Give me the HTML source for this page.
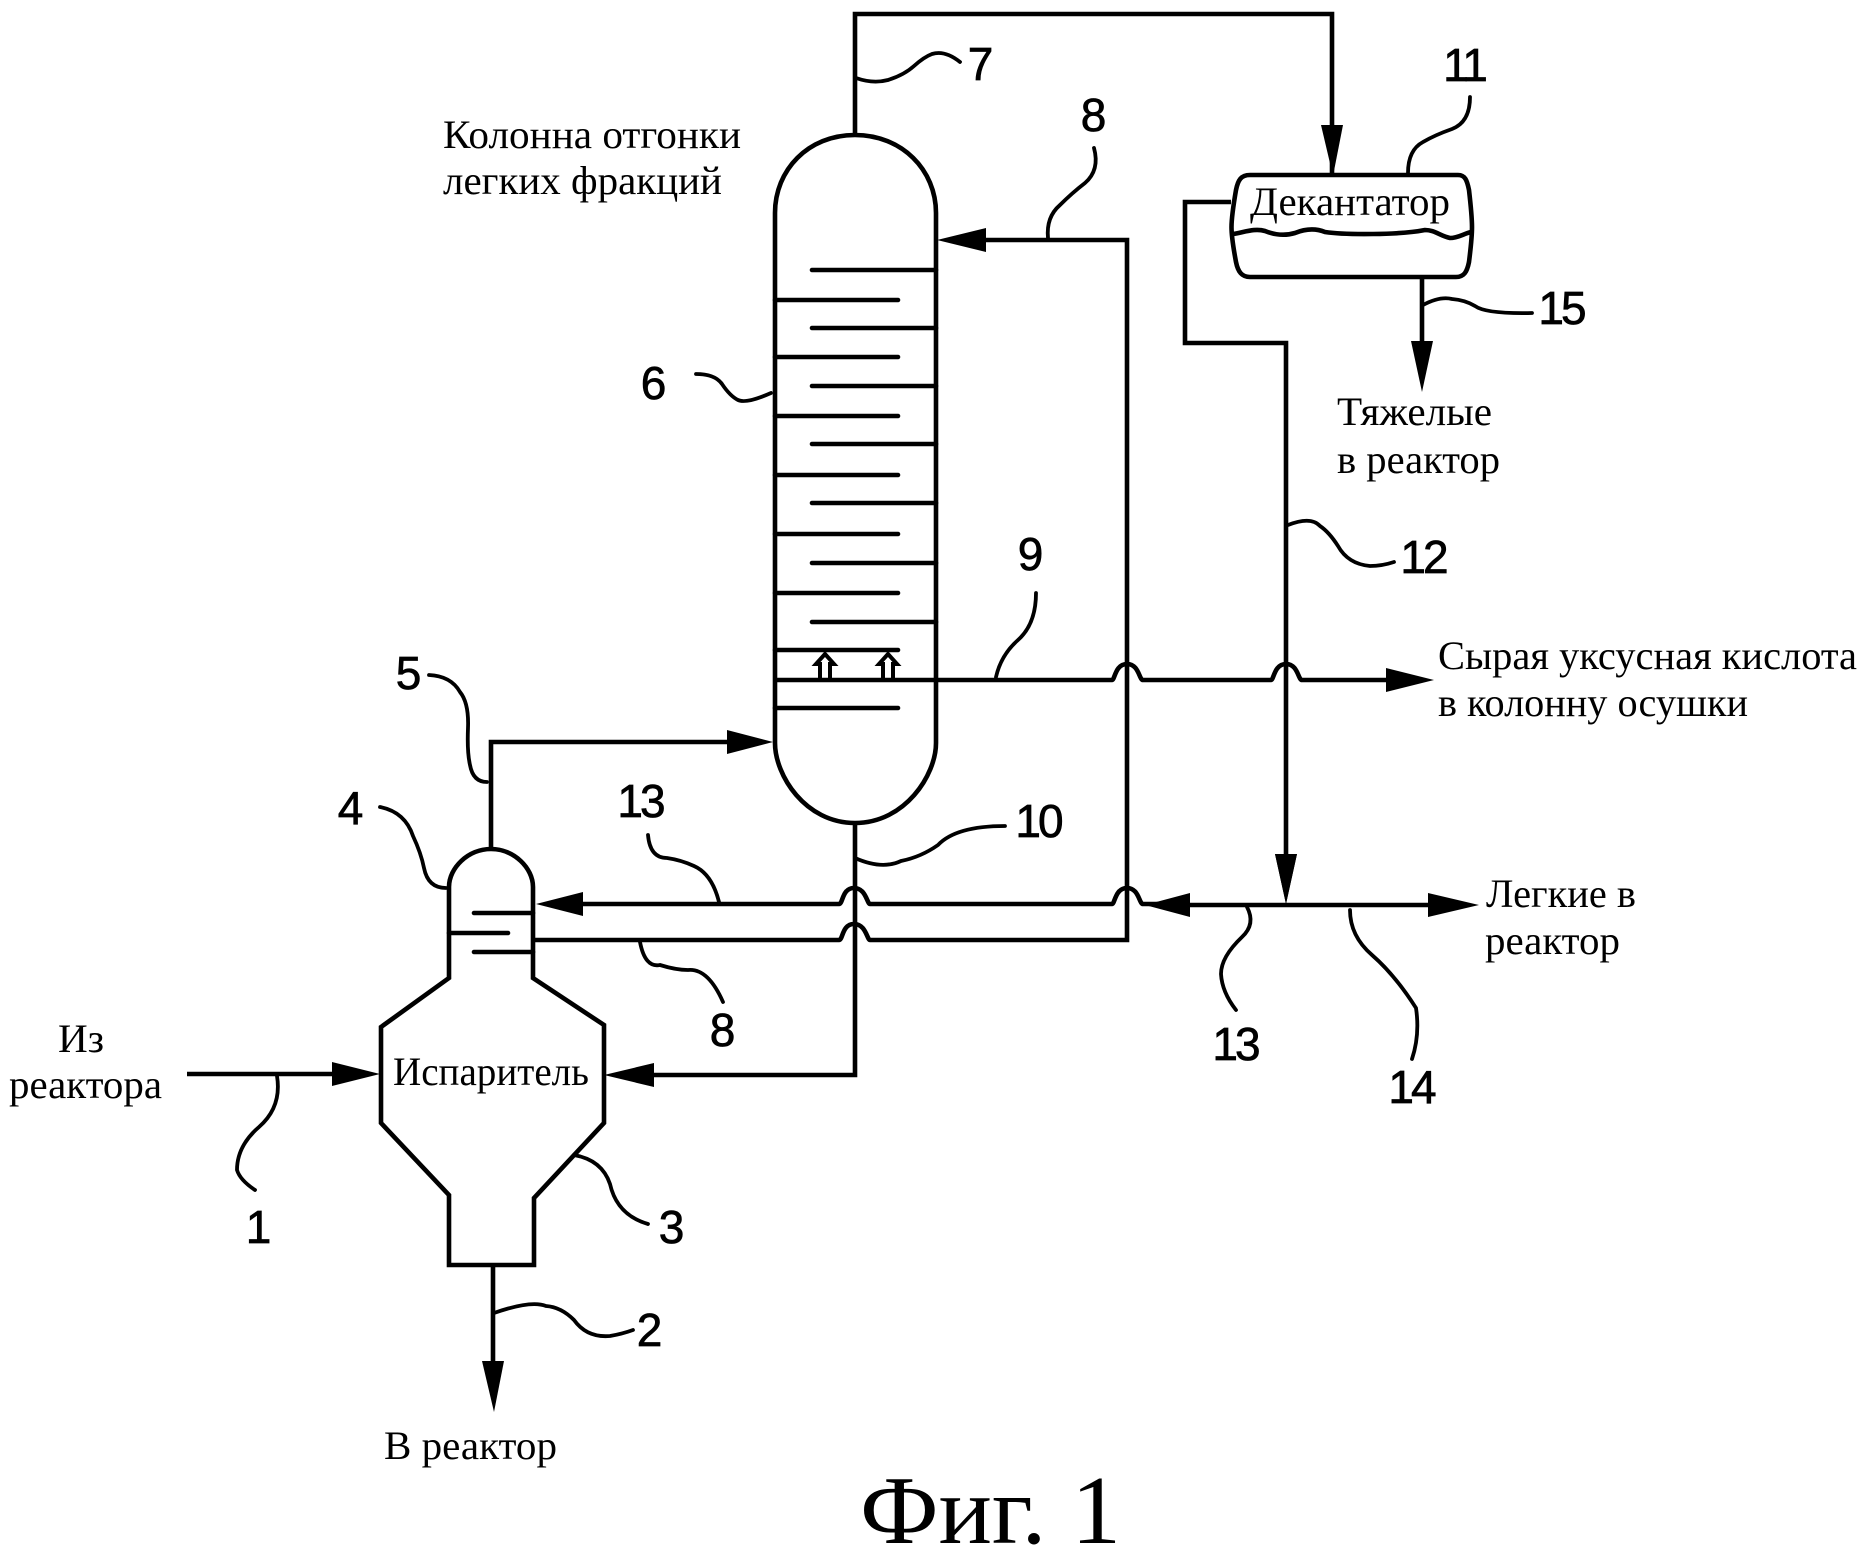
<!DOCTYPE html>
<html><head><meta charset="utf-8"><style>
html,body{margin:0;padding:0;background:#fff}
svg{display:block}
.s{font-family:"Liberation Serif","Noto Serif CJK SC",serif;font-size:40px;fill:#000}
.n{font-family:"Liberation Sans",sans-serif;font-size:46px;fill:#000;stroke:#000;stroke-width:.7;text-anchor:middle;letter-spacing:-3px}
.m{fill:none;stroke:#000;stroke-width:4.6;stroke-linejoin:miter}
.t{fill:none;stroke:#000;stroke-width:4.6;stroke-linecap:round}
.l{fill:none;stroke:#000;stroke-width:3.8;stroke-linecap:round}
.a{fill:#000;stroke:none}
</style></head><body>
<svg width="1871" height="1557" viewBox="0 0 1871 1557" xmlns="http://www.w3.org/2000/svg">
<rect width="1871" height="1557" fill="#fff"/>
<!-- column -->
<path class="m" d="M775 213C775 170 808 135 855 135C902 135 936 170 936 213L936 743C936 775 905 823 855 823C805 823 775 775 775 743Z"/>
<!-- trays -->
<path class="t" d="M812 270H936M812 328H936M812 386H936M812 444H936M812 503H936M812 563H936M812 622H936"/>
<path class="t" d="M775 300H898M775 357H898M775 416H898M775 475H898M775 534H898M775 593H898M775 650H898M775 708H898"/>
<!-- chimneys -->
<path class="m" style="stroke-width:4" d="M820 678V664H816L825 654L834 664H830V678M883 678V664H879L888 654L897 664H893V678"/>
<!-- 7 -->
<path class="m" d="M855 135V14H1332V135"/>
<path class="a" d="M1321 125H1343L1333 176Z"/>
<path class="m" d="M1332 125V175"/>
<!-- decanter -->
<path class="m" d="M1250 175H1458C1465 175 1467 180 1469 190C1473 225 1473 230 1469 262C1467 272 1464 277 1456 277H1250C1242 277 1238 272 1236 262C1230 230 1230 225 1236 190C1238 180 1241 175 1250 175Z"/>
<path class="m" d="M1233 234C1245 232 1255 228 1265 231C1275 235 1285 236 1295 233C1305 229 1315 228 1325 232C1345 235 1400 235 1425 230C1435 230 1440 236 1450 238C1458 238 1463 234 1471 232"/>
<!-- 12 -->
<path class="m" d="M1231 202H1185V343H1286V860"/>
<path class="a" d="M1275 854H1297L1286 904Z"/>
<!-- 15 outlet -->
<path class="m" d="M1422 277V345"/>
<path class="a" d="M1411 341H1433L1422 392Z"/>
<!-- 8 top / down -->
<path class="m" d="M980 240H1127V940H870C867 940 866 924 854 924C842 924 843 940 839 940H535"/>
<path class="a" d="M937 240L986 228V252Z"/>
<!-- 13 -->
<path class="m" d="M580 904H839C843 904 842 888 854 888C866 888 867 904 870 904H1112C1115 904 1115 888 1127 888C1139 888 1139 904 1143 904H1190"/>
<path class="a" d="M536 904L583 892V916Z"/>
<path class="a" d="M1145 905L1190 893V917Z"/>
<!-- horizontal 13/14 -->
<path class="m" d="M1185 905H1435"/>
<path class="a" d="M1479 905L1428 893V917Z"/>
<path class="a" d="M1275 854H1297L1286 904Z"/>
<!-- 9 -->
<path class="m" d="M775 680H1112C1115 680 1115 664 1127 664C1139 664 1139 680 1143 680H1271C1274 680 1274 664 1286 664C1298 664 1298 680 1302 680H1392"/>
<path class="a" d="M1434 680L1386 668V692Z"/>
<!-- 10 -->
<path class="m" d="M855 823V1075H650"/>
<path class="a" d="M604 1075L654 1063V1087Z"/>
<!-- evaporator -->
<path class="m" d="M449 887C449 868 468 849 491 849C514 849 533 868 533 887V978L604 1025V1123L534 1198V1265H449V1195L381 1123V1027L449 978Z"/>
<path class="t" d="M474 913H533M449 933H508M474 952H533"/>
<!-- 5 -->
<path class="m" d="M491 849V742H735"/>
<path class="a" d="M773 742L727 730V754Z"/>
<!-- inlet / outlet -->
<path class="m" d="M187 1074H340"/>
<path class="a" d="M380 1074L332 1062V1086Z"/>
<path class="m" d="M493 1265V1365"/>
<path class="a" d="M482 1361H504L494 1412Z"/>
<!-- leaders -->
<path class="l" d="M856 78Q873 84 888 80Q904 75 914 66Q924 57 932 54Q945 50 960 62"/>
<path class="l" d="M1048 238Q1046 217 1060 205Q1072 193 1085 183Q1100 170 1094 148"/>
<path class="l" d="M1408 173Q1408 150 1423 142Q1435 135 1452 129Q1470 122 1470 97"/>
<path class="l" d="M1423 305Q1440 296 1452 299Q1465 300 1475 306Q1486 314 1532 313"/>
<path class="l" d="M696 374Q715 374 722 384Q730 396 738 400Q746 404 771 393"/>
<path class="l" d="M1288 525Q1311 516 1320 526Q1329 532 1338 546Q1348 564 1370 566Q1382 566 1394 562"/>
<path class="l" d="M996 677Q1001 655 1018 640Q1036 624 1036 593"/>
<path class="l" d="M429 675Q451 676 460 692Q469 703 468 728Q467 752 470 765Q473 782 487 782"/>
<path class="l" d="M380 807Q405 812 413 836Q421 853 424 868Q428 888 446 888"/>
<path class="l" d="M648 835Q650 858 667 858Q681 860 694 866Q712 874 719 902"/>
<path class="l" d="M855 858Q882 870 901 861Q921 857 938 845Q956 826 1005 826"/>
<path class="l" d="M640 942Q645 968 660 965Q676 970 688 970Q708 968 723 1002"/>
<path class="l" d="M1247 907Q1256 924 1242 937Q1221 957 1221 974Q1222 992 1236 1010"/>
<path class="l" d="M1350 910Q1350 936 1372 955Q1395 975 1416 1008Q1420 1035 1412 1059"/>
<path class="l" d="M277 1076Q282 1107 259 1127Q237 1146 237 1170Q240 1180 255 1190"/>
<path class="l" d="M574 1155Q602 1160 610 1184Q617 1215 648 1224"/>
<path class="l" d="M494 1313Q531 1300 546 1306Q561 1307 574 1320Q587 1338 610 1336Q622 1334 633 1330"/>
<!-- serif text -->
<text class="s" x="443" y="148" textLength="298" lengthAdjust="spacingAndGlyphs">Колонна отгонки</text>
<text class="s" x="443" y="194" textLength="279" lengthAdjust="spacingAndGlyphs">легких фракций</text>
<text class="s" x="1250" y="215" textLength="200" lengthAdjust="spacingAndGlyphs">Декантатор</text>
<text class="s" x="1337" y="425" textLength="155" lengthAdjust="spacingAndGlyphs">Тяжелые</text>
<text class="s" x="1337" y="473" textLength="163" lengthAdjust="spacingAndGlyphs">в реактор</text>
<text class="s" x="1438" y="669" textLength="419" lengthAdjust="spacingAndGlyphs">Сырая уксусная кислота</text>
<text class="s" x="1438" y="716" textLength="310" lengthAdjust="spacingAndGlyphs">в колонну осушки</text>
<text class="s" x="1486" y="907" textLength="150" lengthAdjust="spacingAndGlyphs">Легкие в</text>
<text class="s" x="1485" y="954" textLength="135" lengthAdjust="spacingAndGlyphs">реактор</text>
<text class="s" x="58" y="1052" textLength="46" lengthAdjust="spacingAndGlyphs">Из</text>
<text class="s" x="9" y="1098" textLength="153" lengthAdjust="spacingAndGlyphs">реактора</text>
<text class="s" x="393" y="1085" textLength="196" lengthAdjust="spacingAndGlyphs">Испаритель</text>
<text class="s" x="384" y="1459" textLength="173" lengthAdjust="spacingAndGlyphs">В реактор</text>
<text class="s" style="font-size:97px" x="860" y="1543" textLength="261" lengthAdjust="spacingAndGlyphs">Фиг. 1</text>
<!-- numbers -->
<text class="n" x="979" y="80">7</text>
<text class="n" x="1092" y="131">8</text>
<text class="n" x="1464" y="81">11</text>
<text class="n" x="1561" y="324">15</text>
<text class="n" x="652" y="399">6</text>
<text class="n" x="1423" y="573">12</text>
<text class="n" x="1029" y="570">9</text>
<text class="n" x="407" y="689">5</text>
<text class="n" x="349" y="824">4</text>
<text class="n" x="640" y="817">13</text>
<text class="n" x="1038" y="837">10</text>
<text class="n" x="721" y="1046">8</text>
<text class="n" x="1235" y="1060">13</text>
<text class="n" x="1411" y="1103">14</text>
<text class="n" x="257" y="1243">1</text>
<text class="n" x="670" y="1243">3</text>
<text class="n" x="648" y="1346">2</text>
</svg>
</body></html>
